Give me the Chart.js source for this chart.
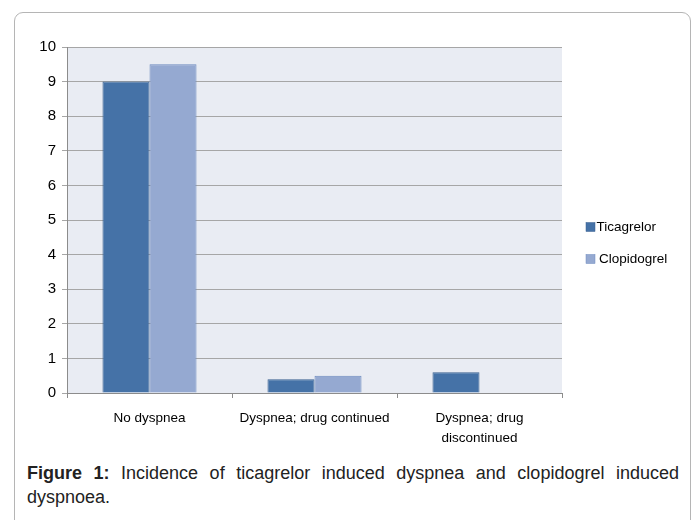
<!DOCTYPE html>
<html>
<head>
<meta charset="utf-8">
<script src="https://cdn.jsdelivr.net/npm/chart.js@4"></script>
<style>
    body { margin: 0; background: #fff; font-family: "Liberation Sans", Arial, sans-serif; }
    #frame { position: absolute; left: 14px; top: 12px; width: 675px; height: 540px; border: 1px solid #b5b5b5; border-radius: 9px; }
    #wrap { position: absolute; left: 0; top: 0; width: 697px; height: 450px; }
    #caption { position: absolute; left: 27px; top: 461px; width: 652px; font-size: 18px; line-height: 24px; color: #222; }
    #caption .l1 { text-align: justify; text-align-last: justify; }
</style>
</head>
<body>
<div id="frame"></div>
<div id="wrap"><canvas id="fig"></canvas></div>
<div id="caption">
    <div class="l1"><b>Figure 1:</b> Incidence of ticagrelor induced dyspnea and clopidogrel induced</div>
    <div>dyspnoea.</div>
</div>
<script>
var categories = ['No dyspnea', 'Dyspnea; drug continued', ['Dyspnea; drug', 'discontinued']];
var seriesNames = ['Ticagrelor', 'Clopidogrel'];
var ticagrelor = [9, 0.4, 0.6];
var clopidogrel = [9.5, 0.5, 0];
var yTicks = [0, 1, 2, 3, 4, 5, 6, 7, 8, 9, 10];

var FONT = '"Liberation Sans", Arial, sans-serif';

// light plot background like the office chart
var plotBg = {
    id: 'plotBg',
    beforeDraw: function (chart) {
        var a = chart.chartArea, c = chart.ctx;
        c.save();
        c.fillStyle = '#e9ecf3';
        c.fillRect(a.left, a.top, a.right - a.left, a.bottom - a.top);
        c.restore();
    }
};

// legend on the right, drawn by hand so the plot keeps its width
var sideLegend = {
    id: 'sideLegend',
    afterDraw: function (chart) {
        var c = chart.ctx;
        var rows = [227, 259];
        c.save();
        c.font = '13.5px ' + FONT;
        c.textBaseline = 'middle';
        chart.data.datasets.forEach(function (ds, i) {
            c.fillStyle = ds.backgroundColor;
            c.fillRect(586, rows[i] - 4.5, 9, 9);
            c.strokeStyle = ds.borderColor;
            c.lineWidth = 0.5;
            c.strokeRect(586, rows[i] - 4.5, 9, 9);
            c.fillStyle = '#000';
            c.fillText(ds.label, 596.5 + i * 2.5, rows[i]);
        });
        c.restore();
    }
};

new Chart(document.getElementById('fig'), {
    type: 'bar',
    data: {
        labels: categories,
        datasets: [{
            label: seriesNames[0],
            data: ticagrelor,
            backgroundColor: '#4572a7',
            borderColor: '#3b6190',
            borderWidth: 1
        }, {
            label: seriesNames[1],
            data: clopidogrel,
            backgroundColor: '#95a9d1',
            borderColor: '#6f8bbf',
            borderWidth: 1
        }]
    },
    options: {
        responsive: true,
        maintainAspectRatio: false,
        animation: false,
        layout: { padding: { left: 0, right: 135, top: 47, bottom: 0 } },
        datasets: { bar: { categoryPercentage: 0.57, barPercentage: 1 } },
        plugins: { legend: { display: false }, tooltip: { enabled: false } },
        scales: {
            x: {
                afterFit: function (s) { s.height = 57; },
                grid: { offset: true, drawOnChartArea: false, tickLength: 5, color: '#8c8c8c' },
                border: { color: '#8c8c8c' },
                ticks: { color: '#000', padding: 10, maxRotation: 0, font: { size: 13.5, family: FONT, lineHeight: 1.48 } }
            },
            y: {
                min: 0,
                max: 10,
                afterFit: function (s) { s.width = 67; },
                afterBuildTicks: function (s) { s.ticks = yTicks.map(function (v) { return { value: v }; }); },
                grid: { color: '#a6a6a6', tickLength: 5 },
                border: { color: '#8c8c8c' },
                ticks: { color: '#000', padding: 6, font: { size: 15, family: FONT } }
            }
        }
    },
    plugins: [plotBg, sideLegend]
});
</script>
</body>
</html>
